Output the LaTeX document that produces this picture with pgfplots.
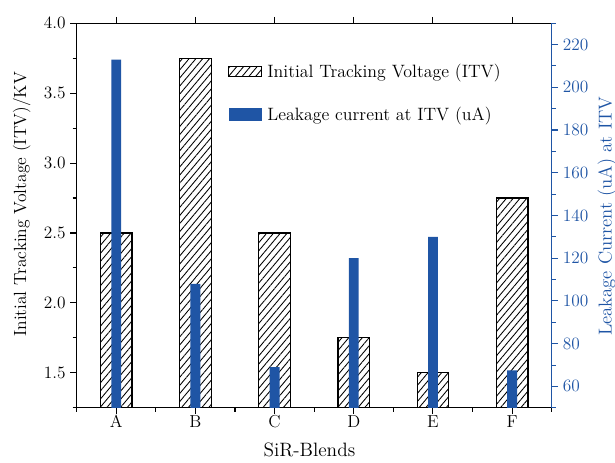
\documentclass[border=0pt]{standalone}
\usepackage{fontspec}
\usepackage{pgfplots}
\usepackage{pgfplotstable}
\pgfplotsset{compat=1.18}
\usetikzlibrary{patterns.meta}

\definecolor{leakblue}{RGB}{31,85,165}

% Initial tracking voltage (kV) per blend, positions 0..5 = A..F
\pgfplotstableread{
x itv
0 2.50
1 3.75
2 2.50
3 1.75
4 1.50
5 2.75
}\itvdata

% Leakage current at ITV (uA)
\pgfplotstableread{
x leak
0 213
1 108
2 69
3 120
4 130
5 67.5
}\leakdata

\tikzset{itvhatch/.style={pattern={Lines[angle=50,distance=3.9pt,line width=0.65pt]}}}

\pgfplotsset{
  common/.style={
    scale only axis,
    width=356.25pt, height=288.4pt,
    xmin=-0.5, xmax=5.5,
    tick align=outside,
    major tick length=4.8pt,
    minor tick length=3pt,
    tick label style={font=\fontsize{13}{15}\selectfont, /pgf/number format/assume math mode=true},
    label style={font=\fontsize{14}{16}\selectfont},
    every tick/.style={line width=0.8pt},
    every minor tick/.style={line width=0.8pt},
    axis line style={line width=0.9pt},
  },
}

\begin{document}
\begin{tikzpicture}
\path[use as bounding box] (-57.5pt,-40.7pt) rectangle (403.7pt,305.8pt);

% left axis: ITV
\begin{axis}[
  common,
  ymin=1.25, ymax=4.0,
  xtick={0,...,5},
  xticklabels={A,B,C,D,E,F},
  minor xtick={-0.5,0.5,...,5.5},
  xtick pos=bottom,
  xticklabel style={yshift=2.5pt},
  ytick={1.5,2.0,...,4.0},
  minor ytick={1.25,1.75,...,3.75},
  ytick pos=left,
  yticklabel style={/pgf/number format/fixed,/pgf/number format/fixed zerofill,/pgf/number format/precision=1},
  xlabel={SiR-Blends},
  xlabel style={font=\fontsize{14.5}{16}\selectfont, at={(axis description cs:0.49,-0.109)},anchor=center},
  ylabel={Initial Tracking Voltage (ITV)/KV},
  ylabel style={font=\fontsize{13.2}{15}\selectfont, at={(axis description cs:-0.1158,0.529)},anchor=center},
]
\addplot[ybar, bar width=0.4, bar shift=0pt, draw=black, line width=0.9pt, fill=white, itvhatch]
  table[x=x,y=itv] {\itvdata};
\end{axis}

% category ticks along the top edge
\begin{axis}[
  common,
  ymin=0, ymax=1,
  hide y axis,
  axis x line*=top,
  xtick={0,...,5},
  xticklabels={},
]
\end{axis}

% right axis: leakage current
\begin{axis}[
  common,
  ymin=50, ymax=230,
  hide x axis,
  axis y line*=right,
  y axis line style={leakblue, line width=0.9pt},
  ytick={60,80,...,220},
  minor ytick={50,70,...,230},
  yticklabel style={leakblue},
  every tick/.style={leakblue, line width=0.8pt},
  every minor tick/.style={leakblue, line width=0.8pt},
  ylabel={\addfontfeature{LetterSpace=4}Leakage Current (uA) at ITV},
  ylabel style={leakblue, at={(axis description cs:1.1164,0.4986)},anchor=center},
  legend style={draw=none, fill=none, inner sep=0pt,
    at={(axis description cs:0.3186,0.899)}, anchor=north west,
    nodes={inner sep=1pt},
    row sep=19pt, font=\fontsize{13.4}{15}\selectfont,
    /tikz/every odd column/.style={column sep=3pt}},
  legend cell align=left,
]
\addlegendimage{legend image code/.code={\draw[black, line width=0.8pt, itvhatch] (0pt,-3.75pt) rectangle (24.5pt,3.75pt);}}
\addlegendentry{Initial Tracking Voltage (ITV)}
\addplot[ybar, bar width=0.125, bar shift=0pt, draw=none, fill=leakblue,
  legend image code/.code={\fill[leakblue] (0pt,-4.9pt) rectangle (24.7pt,4.9pt);}]
  table[x=x,y=leak] {\leakdata};
\addlegendentry{Leakage current at ITV (uA)}
\end{axis}
\end{tikzpicture}
\end{document}
